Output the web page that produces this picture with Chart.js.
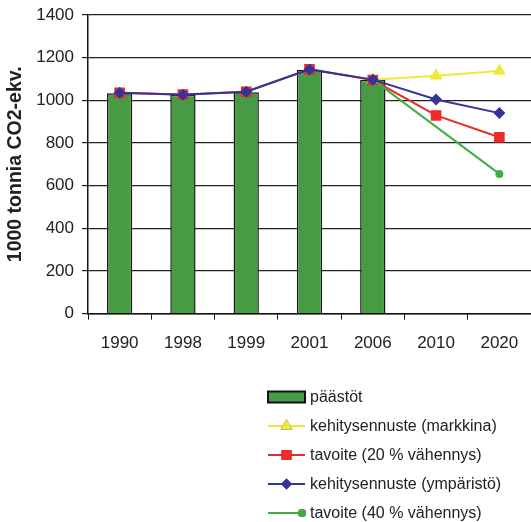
<!DOCTYPE html>
<html>
<head>
<meta charset="utf-8">
<script src="https://cdn.jsdelivr.net/npm/chart.js@4/dist/chart.umd.min.js"></script>
<style>
  html, body { margin: 0; padding: 0; background: #fff; overflow: hidden; }
  canvas { display: block; }
</style>
</head>
<body>
<canvas id="chart" width="531" height="522"></canvas>
<script>
// data
const years = ['1990', '1998', '1999', '2001', '2006', '2010', '2020'];
const paastot = [1033, 1026, 1038, 1143, 1096, null, null];
const markkina = [null, null, null, null, 1096, 1115, 1138];
const tavoite20 = [1035, 1027, 1040, 1145, 1095, 929, 827];
const ymparisto = [1035, 1026, 1040, 1145, 1097, 1004, 940];
const tavoite40 = [null, null, null, null, 1097, null, 655];
const yTicks = [0, 200, 400, 600, 800, 1000, 1200, 1400];

const fontFam = '"Liberation Sans", Arial, sans-serif';

// legend drawn by hand as a vertical list under the plot
const legendPlugin = {
  id: 'vlegend',
  afterDraw(chart) {
    const ctx = chart.ctx;
    const x0 = 268, x1 = 305, tx = 310;
    let y = 397;
    ctx.save();
    ctx.font = '16px ' + fontFam;
    ctx.textBaseline = 'middle';
    chart.data.datasets.forEach(d => {
      if (d.type === 'bar') {
        ctx.fillStyle = d.backgroundColor;
        ctx.fillRect(x0, y - 5.5, x1 - x0, 11);
        ctx.strokeStyle = '#111';
        ctx.lineWidth = 2;
        ctx.strokeRect(x0, y - 5.5, x1 - x0, 11);
      } else {
        ctx.strokeStyle = d.borderColor;
        ctx.lineWidth = 2;
        ctx.beginPath();
        ctx.moveTo(x0, y);
        ctx.lineTo(x1, y);
        ctx.stroke();
        const mx = d.pointStyle === 'circle' ? x1 - 3 : (x0 + x1) / 2;
        ctx.beginPath();
        Chart.helpers.drawPoint(ctx, {
          pointStyle: d.pointStyle,
          radius: d.legendRadius,
          rotation: 0,
          borderWidth: 0
        }, mx, y);
        ctx.fillStyle = d.backgroundColor;
        ctx.fill();
      }
      ctx.fillStyle = '#222';
      ctx.fillText(d.label, tx, y + 1);
      y += 29;
    });
    ctx.restore();
  }
};

new Chart(document.getElementById('chart'), {
  data: {
    labels: years,
    datasets: [
      {
        type: 'bar',
        label: 'päästöt',
        data: paastot,
        backgroundColor: '#479b44',
        borderColor: '#1a1a1a',
        borderWidth: 1.5,
        barPercentage: 0.8,
        categoryPercentage: 0.5,
        order: 10
      },
      {
        type: 'line',
        label: 'kehitysennuste (markkina)',
        data: markkina,
        borderColor: '#ecea3a',
        backgroundColor: '#ecea3a',
        borderWidth: 2,
        pointStyle: 'triangle',
        pointRadius: 7.5,
        legendRadius: 7,
        pointBorderWidth: 0,
        order: 4
      },
      {
        type: 'line',
        label: 'tavoite (20 % vähennys)',
        data: tavoite20,
        borderColor: '#ee2a2a',
        backgroundColor: '#ee2a2a',
        borderWidth: 2,
        pointStyle: 'rect',
        pointRadius: 7.5,
        legendRadius: 7,
        pointBorderWidth: 0,
        order: 3
      },
      {
        type: 'line',
        label: 'kehitysennuste (ympäristö)',
        data: ymparisto,
        borderColor: '#33339a',
        backgroundColor: '#33339a',
        borderWidth: 2,
        pointStyle: 'rectRot',
        pointRadius: 6,
        legendRadius: 5.5,
        pointBorderWidth: 0,
        order: 1
      },
      {
        type: 'line',
        label: 'tavoite (40 % vähennys)',
        data: tavoite40,
        borderColor: '#3fae46',
        backgroundColor: '#3fae46',
        borderWidth: 2,
        spanGaps: true,
        pointStyle: 'circle',
        pointRadius: [0, 0, 0, 0, 0, 0, 4],
        legendRadius: 4,
        pointBorderWidth: 0,
        order: 2
      }
    ]
  },
  options: {
    responsive: false,
    animation: false,
    layout: { autoPadding: false, padding: { top: 15, right: -9, bottom: 154, left: 4 } },
    plugins: {
      legend: { display: false },
      tooltip: { enabled: false }
    },
    scales: {
      x: {
        offset: true,
        afterFit(axis) { axis.paddingRight = 0; axis.paddingLeft = 0; },
        grid: {
          display: true,
          offset: true,
          drawOnChartArea: false,
          drawTicks: true,
          tickLength: 6,
          color: '#111'
        },
        border: { color: '#111', width: 1.5 },
        ticks: {
          color: '#222',
          font: { family: fontFam, size: 17 },
          padding: 14,
          maxRotation: 0
        }
      },
      y: {
        min: 0,
        max: 1400,
        afterBuildTicks(axis) { axis.ticks = yTicks.map(v => ({ value: v })); },
        afterFit(axis) { axis.width = 84; axis.paddingTop = 0; axis.paddingBottom = 0; },
        grid: { color: '#222', lineWidth: 1.2, tickLength: 6 },
        border: { color: '#111', width: 1.5 },
        ticks: {
          color: '#222',
          font: { family: fontFam, size: 17 },
          padding: 8,
          callback: v => String(v)
        },
        title: {
          display: true,
          text: '1000 tonnia CO2-ekv.',
          color: '#222',
          font: { family: fontFam, size: 19.5, weight: 'bold' },
          padding: { top: 0, bottom: 2 }
        }
      }
    }
  },
  plugins: [legendPlugin]
});
</script>
</body>
</html>
